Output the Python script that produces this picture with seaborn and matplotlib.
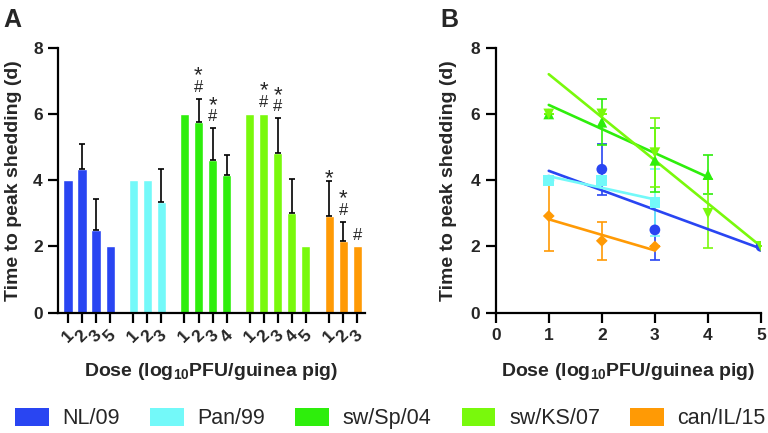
import numpy as np
import pandas as pd
import matplotlib
matplotlib.use("Agg")
import matplotlib.pyplot as plt
import seaborn as sns
from matplotlib.patches import Patch

# ---------------- data ----------------
strains = ["NL/09", "Pan/99", "sw/Sp/04", "sw/KS/07", "can/IL/15"]
colors = ["#2945F2", "#73F9F9", "#2EEE0C", "#79F90C", "#FF9A05"]
markers = ["o", "s", "^", "v", "D"]

nl_dose = [1, 2, 3, 5]
nl_mean = [4.0, 4.33, 2.5, 2.0]
nl_sd = [0.0, 0.77, 0.92, 0.0]
nl_sig = ["", "", "", ""]

pan_dose = [1, 2, 3]
pan_mean = [4.0, 4.0, 3.33]
pan_sd = [0.0, 0.0, 1.0]
pan_sig = ["", "", ""]

sp_dose = [1, 2, 3, 4]
sp_mean = [6.0, 5.75, 4.6, 4.17]
sp_sd = [0.0, 0.7, 0.97, 0.58]
sp_sig = ["", "*#", "*#", ""]

ks_dose = [1, 2, 3, 4, 5]
ks_mean = [6.0, 6.0, 4.83, 3.0, 2.0]
ks_sd = [0.0, 0.0, 1.04, 1.05, 0.0]
ks_sig = ["", "*#", "*#", "", ""]

can_dose = [1, 2, 3]
can_mean = [2.92, 2.17, 2.0]
can_sd = [1.05, 0.58, 0.0]
can_sig = ["*", "*#", "#"]

# regression lines in panel B
fit_slope = [-0.587, -0.35, -0.727, -1.3, -0.47]
fit_intercept = [4.87, 4.47, 7.0, 8.5, 3.29]

doses = [nl_dose, pan_dose, sp_dose, ks_dose, can_dose]
means = [nl_mean, pan_mean, sp_mean, ks_mean, can_mean]
sds = [nl_sd, pan_sd, sp_sd, ks_sd, can_sd]
sigs = [nl_sig, pan_sig, sp_sig, ks_sig, can_sig]

# ---------------- style ----------------
sns.set_theme(style="ticks")
plt.rcParams["font.family"] = ["Liberation Sans", "DejaVu Sans"]
plt.rcParams["mathtext.fontset"] = "custom"
plt.rcParams["mathtext.rm"] = "Liberation Sans:bold"
plt.rcParams["mathtext.default"] = "rm"

GAP = 0.65
rows = []
pos = 0.0
for i, s in enumerate(strains):
    if i > 0:
        pos += GAP
    for d, m, e, g in zip(doses[i], means[i], sds[i], sigs[i]):
        rows.append(dict(strain=s, dose=d, mean=m, sd=e, sig=g, pos=pos))
        pos += 1
df = pd.DataFrame(rows)

fig = plt.figure(figsize=(7.68, 4.33), dpi=100)
H = 433.0
W = 768.0
ax1 = fig.add_axes([58 / W, 1 - 312.7 / H, 307 / W, 265 / H])
ax2 = fig.add_axes([495.7 / W, 1 - 312.7 / H, 265.3 / W, 265 / H])

# ---------- Panel A ----------
sns.barplot(data=df, x="pos", y="mean", hue="strain", palette=colors,
            hue_order=strains, native_scale=True, dodge=False, width=0.65,
            errorbar=None, saturation=1, legend=False, ax=ax1)
sub = df[df["sd"] > 0]
ax1.errorbar(sub["pos"], sub["mean"], yerr=[np.zeros(len(sub)), sub["sd"]],
             fmt="none", ecolor="black", elinewidth=1.2, capsize=2.3, capthick=1.2, zorder=3)
for _, r in df.iterrows():
    top = r["mean"] + r["sd"]
    if "#" in r["sig"]:
        ax1.annotate("#", (r["pos"], top), xytext=(0, 5), textcoords="offset points",
                     ha="center", va="baseline", fontsize=12)
        if "*" in r["sig"]:
            ax1.annotate("*", (r["pos"], top), xytext=(0, 12.5), textcoords="offset points",
                         ha="center", va="baseline", fontsize=16)
    elif "*" in r["sig"]:
        ax1.annotate("*", (r["pos"], top), xytext=(0, -2.3), textcoords="offset points",
                     ha="center", va="baseline", fontsize=16)

ax1.set_xlim(-0.71, 21.16)
ax1.set_ylim(0, 8)
ax1.set_yticks([0, 2, 4, 6, 8])
ax1.set_xticks(df["pos"])
ax1.set_xticklabels([str(d) for d in df["dose"]], rotation=45, ha="center")
ax1.set_xlabel("Dose (log$_{10}$PFU/guinea pig)", fontsize=14, fontweight="bold")
ax1.set_ylabel("Time to peak shedding (d)", fontsize=14, fontweight="bold")
ax1.yaxis.set_label_coords(-0.117, 0.5)
ax1.xaxis.set_label_coords(0.5, -0.182)

# ---------- Panel B ----------
for i, s in enumerate(strains):
    ax2.errorbar(doses[i], means[i], yerr=sds[i], fmt="none", ecolor=colors[i],
                 elinewidth=1.2, capsize=3.6, capthick=1.2, zorder=2)
for i, s in enumerate(strains):
    xs = np.array([min(doses[i]), max(doses[i])], dtype=float)
    ys = fit_intercept[i] + fit_slope[i] * xs
    sns.lineplot(x=xs, y=ys, color=colors[i], linewidth=1.9, ax=ax2, zorder=3)
for i, s in enumerate(strains):
    sz = 60 if markers[i] != "D" else 36
    sns.scatterplot(x=doses[i], y=means[i], marker=markers[i], color=colors[i],
                    s=sz, edgecolor="none", linewidth=0, ax=ax2, zorder=4)

ax2.set_xlim(0, 5)
ax2.set_ylim(0, 8)
ax2.set_xticks([0, 1, 2, 3, 4, 5])
ax2.set_yticks([0, 2, 4, 6, 8])
ax2.set_xlabel("Dose (log$_{10}$PFU/guinea pig)", fontsize=14, fontweight="bold")
ax2.set_ylabel("Time to peak shedding (d)", fontsize=14, fontweight="bold")
ax2.yaxis.set_label_coords(-0.146, 0.5)
ax2.xaxis.set_label_coords(0.5, -0.182)

for ax in (ax1, ax2):
    sns.despine(ax=ax)
    ax.spines["left"].set_linewidth(1.6)
    ax.spines["bottom"].set_linewidth(1.6)
    ax.spines["left"].set_color("black")
    ax.spines["bottom"].set_color("black")
    ax.tick_params(axis="both", length=7, width=1.6, color="black",
                   labelsize=12.5, pad=4)
    for lab in ax.get_xticklabels() + ax.get_yticklabels():
        lab.set_fontweight("bold")
    ax.set_facecolor("white")

fig.text(3 / W, 1 - 8 / H, "A", fontsize=18, fontweight="bold", va="top", ha="left")
fig.text(440 / W, 1 - 8 / H, "B", fontsize=18, fontweight="bold", va="top", ha="left")

handles = [Patch(facecolor=c, edgecolor="none", label=s) for s, c in zip(strains, colors)]
fig.legend(handles=handles, loc="center", bbox_to_anchor=(0.5 + 6.5 / W, 1 - 418.5 / H), ncol=5,
           frameon=False, fontsize=15.5, handlelength=1.55, handleheight=0.9,
           handletextpad=0.65, columnspacing=1.4, borderaxespad=0, borderpad=0)

fig.savefig("out.png", dpi=100, facecolor="white")
